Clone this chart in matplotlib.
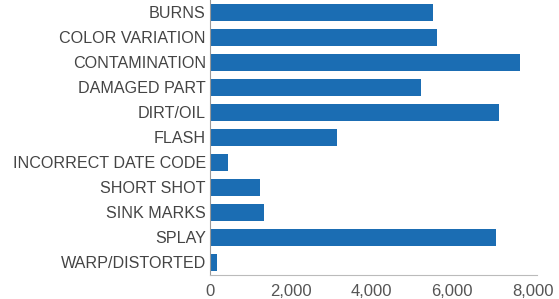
import matplotlib
matplotlib.use("Agg")
import matplotlib.pyplot as plt

categories = ["BURNS", "COLOR VARIATION", "CONTAMINATION", "DAMAGED PART", "DIRT/OIL",
              "FLASH", "INCORRECT DATE CODE", "SHORT SHOT", "SINK MARKS", "SPLAY",
              "WARP/DISTORTED"]
values = [5530, 5630, 7680, 5225, 7165, 3150, 450, 1240, 1345, 7085, 165]
xticks = [0, 2000, 4000, 6000, 8000]
xticklabels = ["0", "2,000", "4,000", "6,000", "8,000"]

plt.rcParams['font.family'] = ['Liberation Sans', 'DejaVu Sans']

fig = plt.figure(figsize=(5.59, 2.99), dpi=100)
ax = fig.add_axes([210/559, 1 - 274.5/299, (537-210)/559, 274.5/299])

ypos = list(range(len(categories)))
ax.barh(ypos, values, height=0.68, color="#1b6db3")
ax.set_ylim(len(categories) - 0.5, -0.5)
ax.set_xlim(0, 8100)
ax.set_yticks(ypos)
ax.set_yticklabels(categories, fontsize=11.6, color="#444444")
ax.set_xticks(xticks)
ax.set_xticklabels(xticklabels, fontsize=12, color="#555555")
ax.tick_params(axis='y', length=0, pad=3)
ax.tick_params(axis='x', length=0, pad=7)
for s in ["top", "right"]:
    ax.spines[s].set_visible(False)
ax.spines["left"].set_color("#999999")
ax.spines["bottom"].set_color("#bbbbbb")
ax.spines["left"].set_linewidth(0.8)
ax.spines["bottom"].set_linewidth(0.8)

fig.savefig("out.png", dpi=100)
